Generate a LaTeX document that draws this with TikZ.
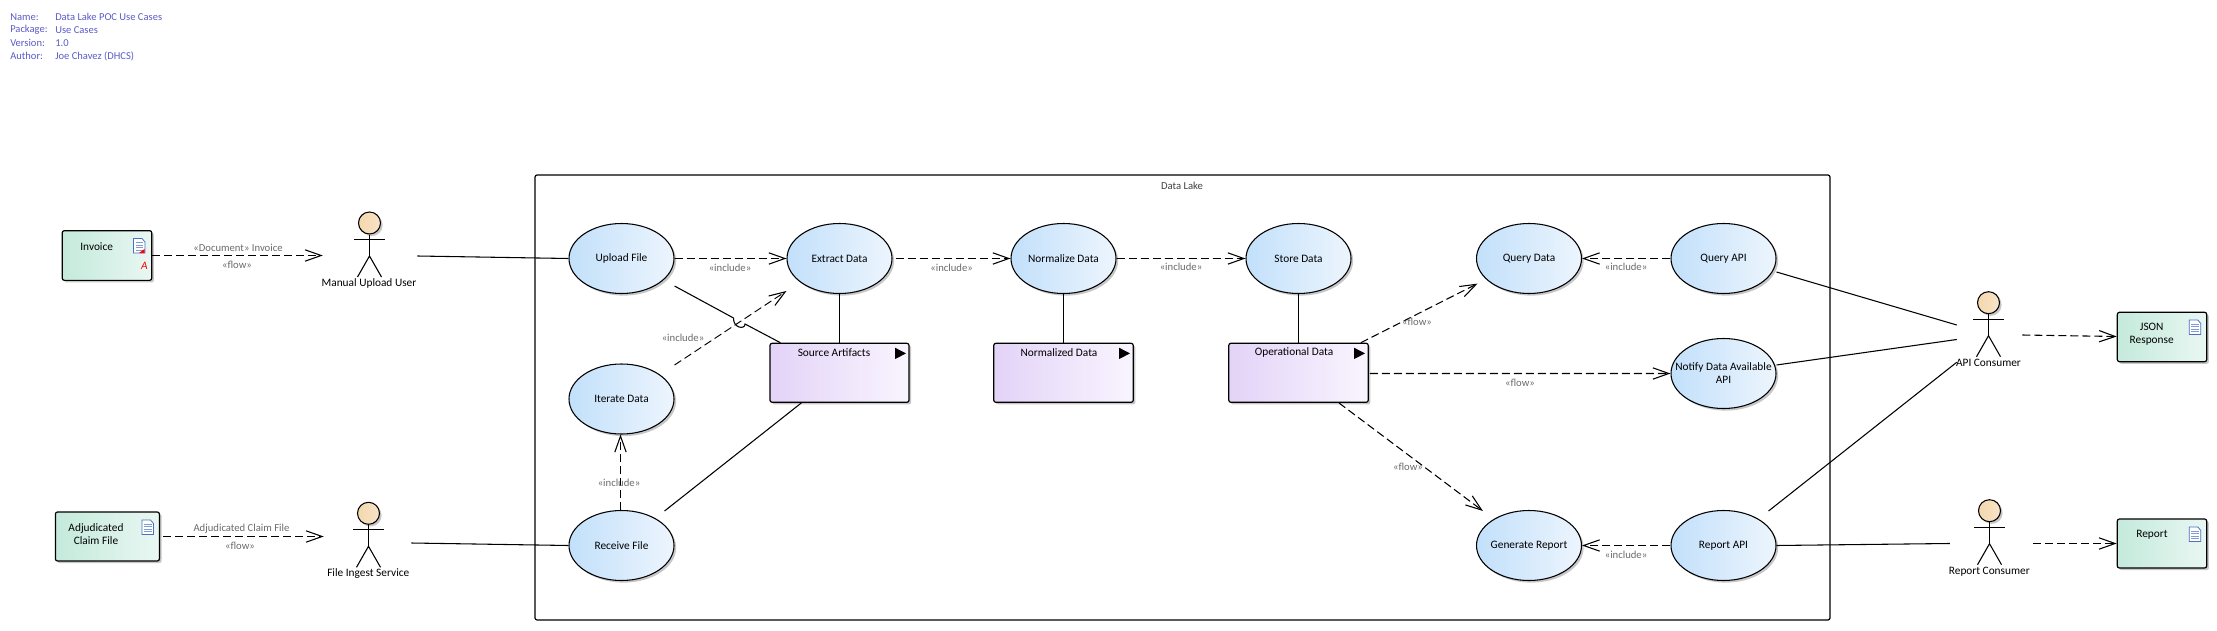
\documentclass[tikz,border=0pt]{standalone}
\usepackage{fontspec}
\setmainfont{Carlito}
\usetikzlibrary{arrows.meta,shapes.geometric,shadows,calc}
\def\px{0.75pt}
\definecolor{hdr}{HTML}{5A5AC8}
\definecolor{lbl}{HTML}{6A6A6A}
\definecolor{iconblue}{HTML}{4A6FC4}
\tikzset{
  softshadow/.style={general shadow={fill=black,opacity=.22,shadow xshift=1.6pt,shadow yshift=-1.6pt}},
  usecase/.style={ellipse,draw=black,line width=.8pt,minimum width=105*\px,minimum height=70*\px,inner sep=0pt,
    left color=ucl,right color=ucr,softshadow},
  artifact/.style={rectangle,rounded corners=1.6pt,draw=black,line width=.9pt,inner sep=0pt,
    left color=docl,right color=docr,softshadow},
  boundarybox/.style={rectangle,rounded corners=1.6pt,draw=black,line width=.9pt,inner sep=0pt},
  activity/.style={rectangle,rounded corners=1.6pt,draw=black,line width=.9pt,inner sep=0pt,
    minimum height=59*\px,left color=pul,right color=pur,softshadow},
  boxtext/.style={font=\fontsize{8.5}{9.75pt}\selectfont,align=center,inner sep=0pt,text=black},
  actortext/.style={font=\fontsize{8.5}{11}\selectfont,inner sep=0pt,text=black},
  conlabel/.style={font=\fontsize{8}{9}\selectfont,text=lbl,inner sep=0pt},
  hdrtext/.style={font=\fontsize{7.9}{9}\selectfont,text=hdr,inner sep=0pt,anchor=west},
  actorzone/.style={rectangle,inner sep=0pt,draw=none},
  actorhead/.style={circle,draw=black,line width=.8pt,minimum size=22*\px,inner sep=0pt,left color=headl,right color=headr,softshadow},
  flowline/.style={draw=black,line width=.8pt,dash pattern=on 6pt off 3pt,-{Straight Barb[length=12pt,width=8.5pt,line width=.8pt]}},
  assoc/.style={draw=black,line width=.8pt},
  tri/.style={fill=black,draw=none},
}
\definecolor{ucl}{HTML}{C2E0FB}\definecolor{ucr}{HTML}{EDF5FD}
\definecolor{docl}{HTML}{C4EADC}\definecolor{docr}{HTML}{E9F7F2}
\definecolor{pul}{HTML}{E3D3F8}\definecolor{pur}{HTML}{F9F5FE}
\definecolor{headl}{HTML}{F3D8AE}\definecolor{headr}{HTML}{F9E3C8}
% actor figure: name, x, head y
\newcommand\umlfig[3]{%
  \node[actorhead] (#1head) at (#2,#3) {};
  \coordinate (#1hip) at (#2,#3+33);
  \draw[assoc] (#1head.south) -- (#1hip);
  \draw[assoc] (#2-15.5,#3+16.5) -- (#2+15.5,#3+16.5);
  \draw[assoc] (#2-12,#3+54) -- (#1hip) -- (#2+12,#3+54);
}
% document icon: x left, y top
\newcommand\docicon[2]{%
  \draw[iconblue,fill=white,line width=.6pt] (#1,#2) -- (#1+8.5,#2) -- (#1+11.5,#2+3.5) -- (#1+11.5,#2+14.5) -- (#1,#2+14.5) -- cycle;
  \foreach \q in {4,6.5,9,11.5}{\draw[iconblue!70,line width=.45pt] (#1+2,#2+\q) -- (#1+9.5,#2+\q);}
}
\newcommand\playtri[2]{\fill[tri] (#1,#2) -- (#1+11,#2+5.7) -- (#1,#2+11.4) -- cycle;}
\begin{document}
\begin{tikzpicture}[x=\px,y=-\px]
\useasboundingbox (0,0) rectangle (2217,631);
% header
\node[hdrtext] (h1) at (10,17) {Name:};
\node[hdrtext] (h2) at (10,30) {Package:};
\node[hdrtext] (h3) at (10,43) {Version:};
\node[hdrtext] (h4) at (10,56) {Author:};
\node[hdrtext] (v1) at (55,17) {Data Lake POC Use Cases};
\node[hdrtext] (v2) at (55,30) {Use Cases};
\node[hdrtext] (v3) at (55,43) {1.0};
\node[hdrtext] (v4) at (55,56) {Joe Chavez (DHCS)};
% boundary
\node[boundarybox,minimum width=1295*\px,minimum height=445*\px] (lake) at (1182.5,397.5) {};
\node[conlabel,text=black!75] (laketitle) at (1182,185.5) {Data Lake};
% use cases
\node[usecase,label={[boxtext]center:Upload File}] (upload) at (621.5,258.5) {};
\node[usecase,label={[boxtext]center:Extract Data}] (extract) at (839.5,258.5) {};
\node[usecase,label={[boxtext]center:Normalize Data}] (normalize) at (1063.5,258.5) {};
\node[usecase,label={[boxtext]center:Store Data}] (store) at (1298.5,258.5) {};
\node[usecase,label={[boxtext]center:Query Data}] (querydata) at (1529,258.5) {};
\node[usecase,label={[boxtext]center:Query API}] (queryapi) at (1723.5,258.5) {};
\node[usecase,label={[boxtext]center:Iterate Data}] (iterate) at (621.5,399) {};
\node[usecase,label={[boxtext]center:Notify Data Available\\API}] (notify) at (1723.5,373.5) {};
\node[usecase,label={[boxtext]center:Receive File}] (receive) at (621.5,545.5) {};
\node[usecase,label={[boxtext]center:Generate Report}] (generate) at (1529,545.5) {};
\node[usecase,label={[boxtext]center:Report API}] (reportapi) at (1723.5,545.5) {};
% activities
\node[activity,minimum width=139*\px] (source) at (839.5,372.8) {};
\node[boxtext] (sourcet) at (834,352.5) {Source Artifacts};
\playtri{895}{347.7}
\node[activity,minimum width=139.5*\px] (normalized) at (1063.5,372.8) {};
\node[boxtext] (normalizedt) at (1059,352.5) {Normalized Data};
\playtri{1119}{347.7}
\node[activity,minimum width=139.5*\px] (operational) at (1298.5,372.8) {};
\node[boxtext] (operationalt) at (1294,352.5) {Operational Data};
\playtri{1354}{347.7}
% artifacts
\node[artifact,minimum width=89.5*\px,minimum height=49.7*\px] (invoice) at (107,255.5) {};
\node[boxtext] (invoicet) at (96.7,246.5) {Invoice};
\docicon{133.5}{238.5}
\fill[red] (139,253) -- (144.5,249) -- (144.5,253) -- cycle;
\node[boxtext,text=red,font=\fontsize{8.5}{10}\itshape] (invoicea) at (144.5,265.5) {A};
\node[artifact,minimum width=104*\px,minimum height=49*\px] (adjud) at (107.4,536.5) {};
\node[boxtext] (adjudt) at (96,534) {Adjudicated\\Claim File};
\docicon{142}{520}
\node[artifact,minimum width=89.4*\px,minimum height=49.4*\px] (json) at (2162,337) {};
\node[boxtext] (jsont) at (2151.7,334) {JSON\\Response};
\docicon{2189.3}{320}
\node[artifact,minimum width=89.4*\px,minimum height=49*\px] (report) at (2162,543.5) {};
\node[boxtext] (reportt) at (2152,534.5) {Report};
\docicon{2189.3}{527}
% actors
\node[actorzone,minimum width=94*\px,minimum height=65*\px] (manual) at (370,244.5) {};
\umlfig{manualf}{369.5}{223}
\node[actortext] (manualt) at (369,283.5) {Manual Upload User};
\node[actorzone,minimum width=87*\px,minimum height=66*\px] (ingest) at (367.5,535) {};
\umlfig{ingestf}{368.5}{513.3}
\node[actortext] (ingestt) at (368.3,574) {File Ingest Service};
\node[actorzone,minimum width=65*\px,minimum height=71*\px] (api) at (1989.5,326.5) {};
\umlfig{apif}{1988.5}{302.7}
\node[actortext] (apit) at (1988.5,362.5) {API Consumer};
\node[actorzone,minimum width=83*\px,minimum height=65*\px] (rc) at (1991.5,532.5) {};
\umlfig{rcf}{1989.5}{510.7}
\node[actortext] (rct) at (1989.3,571.5) {Report Consumer};
% flows outside
\draw[flowline] (invoice.east) -- ($(manual.west)+(0,11)$);
\node[conlabel] (l1) at (238,248) {«Document» Invoice};
\node[conlabel] (l2) at (237,265) {«flow»};
\draw[flowline] ($(adjud.east)+(3,0)$) -- ($(ingest.west)+(0,1.5)$);
\node[conlabel] (l3) at (241.5,528.5) {Adjudicated Claim File};
\node[conlabel] (l4) at (240,546) {«flow»};
\draw[assoc] ($(manual.east)+(0,11.5)$) -- (upload.west);
\draw[assoc] ($(ingest.east)+(0,8)$) -- (receive.west);
% includes
\draw[flowline] (upload.east) -- (extract.west);
\node[conlabel] (l5) at (730,268) {«include»};
\draw[flowline] ($(extract.east)+(3,0)$) -- (normalize.west);
\node[conlabel] (l6) at (951.6,268) {«include»};
\draw[flowline] (normalize.east) -- (store.west);
\node[conlabel] (l7) at (1181,267) {«include»};
\draw[flowline] (queryapi.west) -- (querydata.east);
\node[conlabel] (l8) at (1626,267) {«include»};
\draw[flowline] (reportapi.west) -- (generate.east);
\node[conlabel] (l9) at (1626,555) {«include»};
\draw[flowline,line width=.7pt] ($(iterate.east)+(0,-34)$) -- ($(extract.west)+(0,32.5)$);
\node[conlabel] (l10) at (683,338) {«include»};
\draw[flowline] ($(receive.north)+(-1,0)$) -- ($(iterate.south)+(-1,0)$);
\node[conlabel] (l11) at (619,482.5) {«include»};
% flows from operational
\draw[flowline] ($(operational.north east)+(-8,0)$) -- ($(querydata.south west)+(-14,0)$);
\node[conlabel] (l12) at (1417,322) {«flow»};
\draw[flowline] ($(operational.east)+(1,.7)$) -- (notify.west);
\node[conlabel] (l13) at (1520,382.5) {«flow»};
\draw[flowline] ($(operational.south east)+(-30,0)$) -- ($(generate.west)+(7,-34.5)$);
\node[conlabel] (l14) at (1408,466.5) {«flow»};
% associations inside
\coordinate (jumpa) at (733.5,318);
\coordinate (jumpb) at (745,324);
\draw[assoc] ($(upload.east)+(0,27.5)$) -- (jumpa) .. controls (733,328) and (745,330) .. (jumpb) -- ($(source.north west)+(11,0)$);
\draw[assoc] (extract.south) -- (source.north);
\draw[assoc] ($(receive.east)+(-10,-34.5)$) -- ($(source.south west)+(32,0)$);
\draw[assoc] (normalize.south) -- (normalized.north);
\draw[assoc] (store.south) -- (operational.north);
% API consumer associations
\draw[assoc] ($(queryapi.east)+(0,13.5)$) -- ($(api.west)+(0,-1.5)$);
\draw[assoc] ($(notify.east)+(0,-8.5)$) -- ($(api.west)+(0,13)$);
\draw[assoc] ($(reportapi.east)+(-8,-34.5)$) -- (api.south west);
\draw[assoc] (reportapi.east) -- ($(rc.west)+(0,11)$);
\draw[flowline] ($(api.east)+(0,8.5)$) -- ($(json.west)+(0,-.5)$);
\draw[flowline] ($(rc.east)+(0,11)$) -- (report.west);
\end{tikzpicture}
\end{document}
